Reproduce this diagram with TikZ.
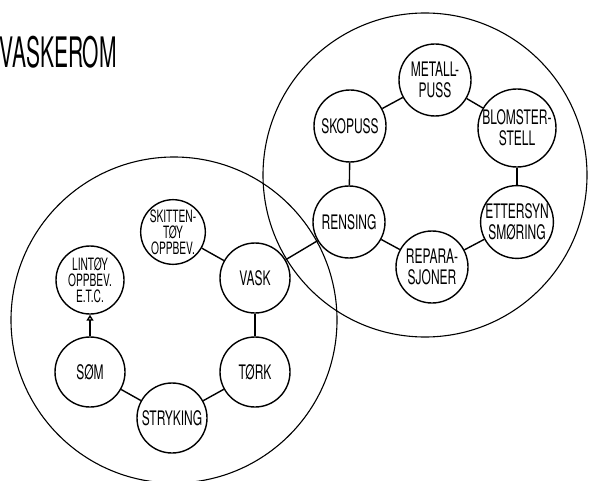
\documentclass[tikz,border=0pt]{standalone}
\usepackage{fontspec}
\usetikzlibrary{arrows.meta}
\newfontfamily\bokstav[FakeStretch=0.6]{TeX Gyre Heros}
\newfontfamily\tittel[FakeStretch=0.5]{TeX Gyre Heros}

\tikzset{
  sone/.style={draw, circle, line width=1.1pt, inner sep=0pt},
  rom/.style={draw, circle, line width=1.4pt, minimum size=70pt, inner sep=0pt, align=center,
    font=\bokstav\fontsize{20}{21}\selectfont},
  rom3/.style={rom, font=\bokstav\fontsize{17}{16}\selectfont},
  link/.style={line width=1.4pt},
}

\begin{document}
\begin{tikzpicture}[x=1pt,y=-1pt]
  \useasboundingbox (0,0) rectangle (591,481);

  \node[anchor=west,font=\tittel\fontsize{42}{42}\selectfont] (tittel) at (-4,52) {VASKEROM};

  % de to sonene
  \node[sone, minimum size=326pt] (vasksone) at (174,320) {};
  \node[sone, minimum size=324pt] (renssone) at (425,175) {};

  % vaskeromsring
  \node[rom3, minimum size=64pt] (skitten) at (173,232) {SKITTEN-\\TØY\\OPPBEV.};
  \node[rom] (vask) at (255,278) {VASK};
  \node[rom] (tork) at (255,372) {TØRK};
  \node[rom] (stryking) at (172,418) {STRYKING};
  \node[rom] (som) at (90,372) {SØM};
  \node[rom3, minimum size=68pt] (lintoy) at (90,280) {LINTØY\\OPPBEV.\\E.T.C.};

  % rensering
  \foreach \nm/\x/\y/\txt in {metall/435/80/{METALL-\\PUSS},
                              blomst/517/128/{BLOMSTER-\\STELL},
                              ettersyn/517/222/{ETTERSYN\\SMØRING},
                              repara/432/267/{REPARA-\\SJONER},
                              rensing/349/222/{RENSING},
                              skopuss/350/126/{SKOPUSS}}
  {
    \node[rom, minimum size=72pt] (\nm) at (\x,\y) {\txt};
  }

  \foreach \a/\b in {skitten/vask, vask/tork, tork/stryking, stryking/som,
                     rensing/skopuss, skopuss/metall, metall/blomst,
                     blomst/ettersyn, ettersyn/repara, repara/rensing,
                     vask/rensing}
  {
    \draw[link] (\a) -- (\b);
  }
  \draw[link,-{Triangle[open,length=6pt,width=7pt]}] (som) -- (lintoy);
\end{tikzpicture}
\end{document}
